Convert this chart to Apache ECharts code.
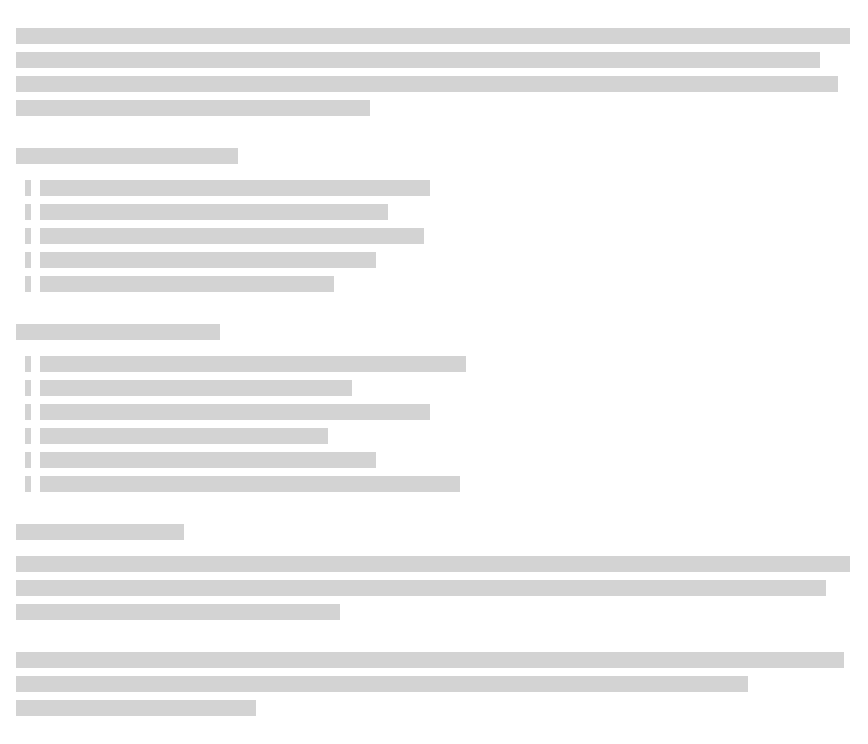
<!DOCTYPE html>
<html>
<head>
<meta charset="utf-8">
<script src="https://cdn.jsdelivr.net/npm/echarts@6/dist/echarts.min.js"></script>
<style>
  html, body { margin: 0; padding: 0; background: #fff; }
  #main { width: 868px; height: 744px; }
</style>
</head>
<body>
<div id="main"></div>
<script>
// skeleton lines: top of each line, kind, and where the grey bar ends
const lineTop = [28, 52, 76, 100, 148, 180, 204, 228, 252, 276, 324, 356, 380, 404, 428, 452, 476, 524, 556, 580, 604, 652, 676, 700];
const lineKind = ['text', 'text', 'text', 'text', 'heading',
  'item', 'item', 'item', 'item', 'item', 'heading',
  'item', 'item', 'item', 'item', 'item', 'item', 'heading',
  'text', 'text', 'text', 'text', 'text', 'text'];
const lineEnd = [850, 820, 838, 370, 238,
  430, 388, 424, 376, 334, 220,
  466, 352, 430, 328, 376, 460, 184,
  850, 826, 340, 844, 748, 256];

const chart = echarts.init(document.getElementById('main'));

// one row per grey block: [x0, x1, top]
const blocks = [];
lineTop.forEach(function (top, i) {
    if (lineKind[i] === 'item') {
        blocks.push([25, 31, top]);      // list marker
        blocks.push([40, lineEnd[i], top]);
    } else {
        blocks.push([16, lineEnd[i], top]);
    }
});

const option = {
    animation: false,
    grid: { left: 0, right: 0, top: 0, bottom: 0 },
    xAxis: { type: 'value', min: 0, max: 868, show: false },
    yAxis: { type: 'value', min: 0, max: 744, inverse: true, show: false },
    series: [
        {
            type: 'custom',
            data: blocks,
            renderItem: function (params, api) {
                const p0 = api.coord([api.value(0), api.value(2)]);
                const p1 = api.coord([api.value(1), api.value(2) + 16]);
                return {
                    type: 'rect',
                    shape: { x: p0[0], y: p0[1], width: p1[0] - p0[0], height: p1[1] - p0[1] },
                    style: { fill: '#d3d3d3' }
                };
            }
        }
    ]
};

chart.setOption(option);
</script>
</body>
</html>
